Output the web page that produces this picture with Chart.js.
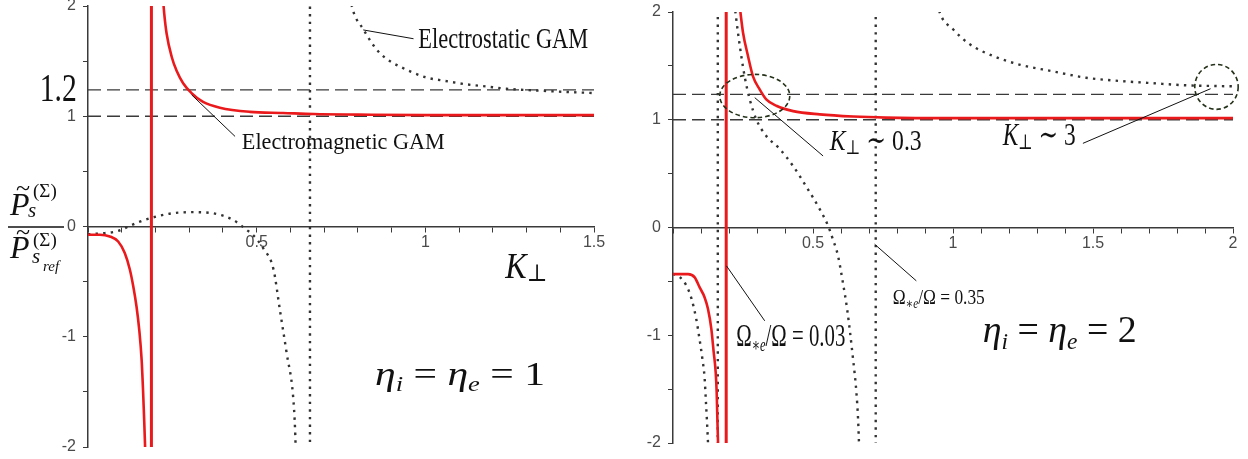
<!DOCTYPE html>
<html><head><meta charset="utf-8">
<script src="https://cdn.jsdelivr.net/npm/chart.js@4.4.1/dist/chart.umd.min.js"></script>
<style>
html,body{margin:0;padding:0;background:#fff;width:1248px;height:459px;overflow:hidden}
#wl{position:absolute;left:0;top:0;width:620px;height:459px}
#wr{position:absolute;left:620px;top:0;width:628px;height:459px}
</style></head><body>
<div id="wl"><canvas id="cl" width="620" height="459"></canvas></div>
<div id="wr"><canvas id="cr" width="628" height="459"></canvas></div>
<script>
// ---------------- data ----------------
const leftXTickLabels  = ['0.5','1','1.5'];
const rightXTickLabels = ['0.5','1','1.5','2'];
const yTickLabels = ['-2','-1','0','1','2'];

// Left panel: eta_i = eta_e = 1
const L_refLevels = [1.24, 1.0];
const L_redVertK = [0.188];
const L_dotVertK = [0.658];
const L_emUpperK = [0.222,0.226,0.233,0.248,0.263,0.282,0.307,0.341,0.391,0.48,0.578,0.67,0.8,1.0,1.5];
const L_emUpperP = [2.08,1.93,1.75,1.54,1.41,1.30,1.21,1.13,1.077,1.04,1.03,1.02,1.015,1.01,1.01];
const L_emLowerK = [0,0.035,0.0647,0.0894,0.109,0.124,0.134,0.144,0.152,0.159,0.1635,0.1665,0.1695];
const L_emLowerP = [-0.075,-0.075,-0.09,-0.136,-0.24,-0.39,-0.54,-0.73,-0.94,-1.21,-1.51,-1.75,-2.02];
const L_esLowerK = [0,0.05,0.09,0.12,0.15,0.19,0.25,0.31,0.37,0.43,0.47,0.49,0.52,0.55,0.569,0.589,0.608,0.614,0.616];
const L_esLowerP = [-0.07,-0.06,-0.04,0.0,0.04,0.08,0.12,0.13,0.12,0.06,-0.03,-0.08,-0.2,-0.39,-0.76,-1.15,-1.54,-1.85,-2.05];
const L_esUpperK = [0.775,0.79,0.816,0.84,0.866,0.9,0.925,0.96,1.005,1.06,1.12,1.18,1.24,1.35,1.5];
const L_esUpperP = [2.08,1.92,1.79,1.67,1.57,1.49,1.45,1.40,1.35,1.32,1.29,1.27,1.25,1.23,1.21];

// Right panel: eta_i = eta_e = 2
const R_refLevels = [1.235, 1.0];
const R_redVertK = [0.19];
const R_dotVertK = [0.16, 0.724];
const R_emUpperK = [0.237,0.25,0.268,0.286,0.31,0.333,0.369,0.429,0.524,0.643,0.76,1.0,2.0];
const R_emUpperP = [2.08,1.81,1.59,1.40,1.28,1.19,1.13,1.08,1.05,1.03,1.02,1.015,1.015];
const R_emLowerK = [0,0.0536,0.0775,0.0952,0.113,0.125,0.137,0.1454,0.1525,0.156,0.1585,0.1612];
const R_emLowerP = [-0.433,-0.433,-0.463,-0.556,-0.649,-0.757,-0.943,-1.159,-1.344,-1.53,-1.777,-2.03];
const R_esLeftK = [0,0.024,0.048,0.066,0.083,0.095,0.105,0.113,0.117,0.121,0.126];
const R_esLeftP = [-0.43,-0.46,-0.54,-0.66,-0.85,-1.04,-1.22,-1.40,-1.59,-1.78,-2.05];
const R_esMidK = [0.219,0.232,0.244,0.256,0.274,0.298,0.333,0.381,0.429,0.476,0.524,0.554,0.571,0.589,0.606,0.622,0.643,0.655,0.661,0.665];
const R_esMidP = [2.08,1.81,1.59,1.40,1.19,1.0,0.85,0.73,0.57,0.38,0.17,0.015,-0.11,-0.26,-0.50,-0.76,-1.22,-1.53,-1.78,-2.05];
const R_esUpperK = [0.945,0.952,1.0,1.06,1.155,1.24,1.355,1.475,1.595,1.71,1.83,2.0];
const R_esUpperP = [2.08,2.0,1.84,1.70,1.58,1.51,1.45,1.39,1.36,1.34,1.32,1.31];

// ---------------- styling / helpers ----------------
const RED='#ea1a1c', DOT='#333333', DASH='#3a3a3a', AXIS='#3a3a3a', TICK='#4a4a4a', TEXT='#111111';
const SERIF='"Liberation Serif", "DejaVu Serif", serif';
const fmt = v => String(Math.round(v*100)/100);
const xy = (ks, ps) => ks.map((k,i)=>({x:k, y:ps[i]}));

function curve(ks, ps, kind){
  const base = {data: xy(ks,ps), showLine:true, pointRadius:0, pointHoverRadius:0, fill:false, cubicInterpolationMode:'monotone'};
  if(kind==='red') return Object.assign(base,{borderColor:RED, borderWidth:2.6, order:0});
  return Object.assign(base,{borderColor:DOT, borderWidth:2.4, borderDash:[2.4,5.2], order:2});
}
function vline(k, kind){
  const d = {data:[{x:k,y:-2.3},{x:k,y:2.3}], showLine:true, pointRadius:0, fill:false, tension:0};
  if(kind==='red') return Object.assign(d,{borderColor:RED, borderWidth:3, order:0});
  return Object.assign(d,{borderColor:DOT, borderWidth:2.4, borderDash:[2.4,5.2], order:2});
}
function hline(v, kmax){
  return {data:[{x:0,y:v},{x:kmax,y:v}], showLine:true, pointRadius:0, fill:false, tension:0,
          borderColor:DASH, borderWidth:1.3, borderDash:[13,6], order:3};
}

function drawRuns(ctx, runs, x, y, width){
  let total=0; const ws=[];
  for(const r of runs){ ctx.font=(r[2]?'italic ':'')+r[1]+'px '+SERIF; const w=ctx.measureText(r[0]).width; ws.push(w); total+=w; }
  const sx = width ? width/total : 1;
  ctx.save(); ctx.translate(x,y); ctx.scale(sx,1);
  ctx.fillStyle=TEXT; ctx.textAlign='left'; ctx.textBaseline='alphabetic';
  let cx=0;
  runs.forEach((r,i)=>{ ctx.font=(r[2]?'italic ':'')+r[1]+'px '+SERIF; ctx.fillText(r[0], cx, r[3]||0); cx+=ws[i]; });
  ctx.restore();
}

function annotPlugin(spec){
  return {
    id:'annot'+spec.id,
    afterDraw(chart){
      const ctx=chart.ctx, X=chart.scales.x, Y=chart.scales.y;
      const px=k=>X.getPixelForValue(k), py=v=>Y.getPixelForValue(v);
      ctx.save();
      ctx.strokeStyle=TEXT; ctx.lineWidth=1; ctx.setLineDash([]);
      for(const l of spec.leaders){ ctx.beginPath(); ctx.moveTo(px(l[0]),py(l[1])); ctx.lineTo(px(l[2]),py(l[3])); ctx.stroke(); }
      ctx.strokeStyle='#25321a'; ctx.lineWidth=1.6; ctx.setLineDash([4.5,3]);
      for(const e of spec.ellipses){
        const cx=px(e[0]), cy=py(e[1]), rx=Math.abs(px(e[0]+e[2])-cx), ry=Math.abs(py(e[1]+e[3])-cy);
        ctx.beginPath(); ctx.ellipse(cx,cy,rx,ry,0,0,Math.PI*2); ctx.stroke();
      }
      ctx.setLineDash([]);
      for(const t of spec.labels){ drawRuns(ctx, t.runs, px(t.k), py(t.v), t.w); }
      if(spec.extra) spec.extra(ctx, chart);
      ctx.restore();
    }
  };
}

function makeChart(id, cfg){
  return new Chart(document.getElementById(id), {
    type:'scatter',
    data:{datasets:cfg.datasets},
    options:{
      responsive:false, animation:false, devicePixelRatio:1,
      layout:{autoPadding:false, padding:cfg.padding},
      plugins:{legend:{display:false}, tooltip:{enabled:false}},
      events:[],
      scales:{
        x:{type:'linear', min:0, max:cfg.xMax, position:{y:0},
           afterFit:s=>{s.paddingLeft=0; s.paddingRight=0;},
           ticks:{stepSize:0.1, autoSkip:false, maxRotation:0, color:TICK, padding:1,
                  font:{family:'"Liberation Sans", Arial, sans-serif', size:16},
                  callback:v=>cfg.xTicks.includes(fmt(v))?fmt(v):''},
           grid:{drawOnChartArea:false, drawTicks:true, tickLength:5, color:AXIS, lineWidth:1},
           border:{display:true, color:AXIS, width:1.5}},
        y:{type:'linear', min:-2, max:2, position:'left',
           afterFit:s=>{s.width=cfg.yWidth; s.paddingTop=0; s.paddingBottom=0;},
           ticks:{stepSize:0.5, autoSkip:false, color:TICK, padding:7,
                  font:{family:'"Liberation Sans", Arial, sans-serif', size:16},
                  callback:v=>yTickLabels.includes(fmt(v))?fmt(v):''},
           grid:{drawOnChartArea:false, drawTicks:true, tickLength:5, color:AXIS, lineWidth:1},
           border:{display:true, color:AXIS, width:1.5}}
      }
    },
    plugins:[annotPlugin(cfg.annot)]
  });
}

function yTitle(ctx){
  drawRuns(ctx,[['P',32,1]],10,215);
  drawRuns(ctx,[['~',26,0]],16,196);
  drawRuns(ctx,[['s',21,1]],28,217);
  drawRuns(ctx,[['(Σ)',19,0]],33,197);
  ctx.strokeStyle=TEXT; ctx.lineWidth=1.3; ctx.beginPath(); ctx.moveTo(8,227); ctx.lineTo(64,227); ctx.stroke();
  drawRuns(ctx,[['P',32,1]],10,258);
  drawRuns(ctx,[['~',26,0]],16,240);
  drawRuns(ctx,[['(Σ)',19,0]],33,246);
  drawRuns(ctx,[['s',21,1]],32,263);
  drawRuns(ctx,[['ref',15,1]],43,271);
}

makeChart('cl', {
  xMax:1.5, yWidth:88, padding:{left:0,right:26,top:6,bottom:12}, xTicks:leftXTickLabels,
  datasets:[
    curve(L_emUpperK, L_emUpperP, 'red'),
    curve(L_emLowerK, L_emLowerP, 'red'),
    vline(L_redVertK[0], 'red'),
    curve(L_esLowerK, L_esLowerP, 'dot'),
    curve(L_esUpperK, L_esUpperP, 'dot'),
    vline(L_dotVertK[0], 'dot'),
    hline(L_refLevels[0], 1.5),
    hline(L_refLevels[1], 1.5)
  ],
  annot:{id:'L',
    leaders:[[0.307,1.195,0.436,0.817],[0.816,1.783,0.965,1.703]],
    ellipses:[],
    labels:[
      {k:-0.143, v:1.134, w:37, runs:[['1.2',40,0]]},
      {k:0.456, v:0.705, w:203, runs:[['Electromagnetic GAM',23.5,0]]},
      {k:0.979, v:1.619, w:170, runs:[['Electrostatic GAM',30,0]]},
      {k:1.237, v:-0.468, w:42, runs:[['K',35,1],['⊥',24,0,3]]},
      {k:0.851, v:-1.437, w:170, runs:[['η',33,1],['i',21,1,6],[' = ',33,0],['η',33,1],['e',21,1,6],[' = 1',33,0]]}
    ],
    extra:yTitle}
});

makeChart('cr', {
  xMax:2, yWidth:53, padding:{left:0,right:15,top:12,bottom:16}, xTicks:rightXTickLabels,
  datasets:[
    curve(R_emUpperK, R_emUpperP, 'red'),
    curve(R_emLowerK, R_emLowerP, 'red'),
    vline(R_redVertK[0], 'red'),
    curve(R_esLeftK, R_esLeftP, 'dot'),
    curve(R_esMidK, R_esMidP, 'dot'),
    curve(R_esUpperK, R_esUpperP, 'dot'),
    vline(R_dotVertK[0], 'dot'),
    vline(R_dotVertK[1], 'dot'),
    hline(R_refLevels[0], 2),
    hline(R_refLevels[1], 2)
  ],
  annot:{id:'R',
    leaders:[[0.292,1.205,0.536,0.664],[1.92,1.288,1.464,0.781],[0.191,-0.356,0.3275,-0.866],[0.72,-0.155,0.869,-0.495]],
    ellipses:[[0.292,1.22,0.125,0.201],[1.941,1.305,0.0775,0.2085]],
    labels:[
      {k:0.5596, v:0.719, w:92, runs:[['K',30,1],['⊥',20,0,4],[' ∼ 0.3',30,0]]},
      {k:1.1775, v:0.768, w:73, runs:[['K',32,1],['⊥',21,0,4],[' ∼ 3',32,0]]},
      {k:0.226, v:-1.097, w:109, runs:[['Ω',32,0],['∗e',19,1,5],['/Ω = 0.03',32,0]]},
      {k:0.785, v:-0.711, w:92, runs:[['Ω',22,0],['∗e',14,1,4],['/Ω = 0.35',22,0]]},
      {k:1.106, v:-1.066, w:154, runs:[['η',37,1],['i',23,1,7],[' = ',37,0],['η',37,1],['e',23,1,7],[' = 2',37,0]]}
    ]}
});
</script>
</body></html>
